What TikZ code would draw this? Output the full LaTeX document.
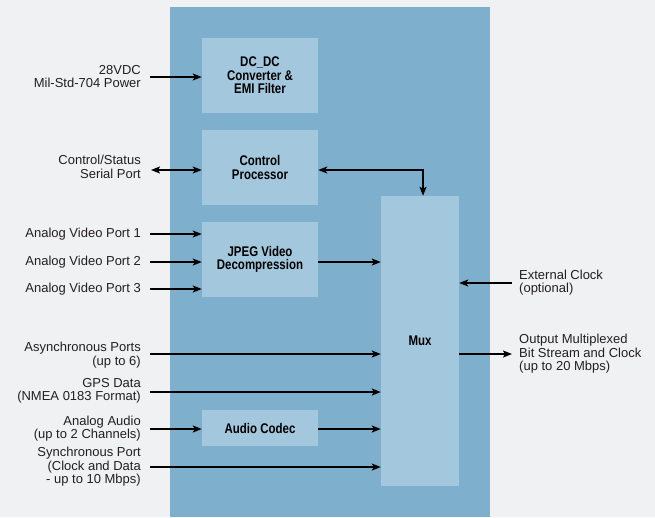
\documentclass[tikz,border=0pt]{standalone}
\usepackage{fontspec}
\setmainfont{Liberation Sans}
\newfontfamily\boxfont[FakeStretch=0.82]{Liberation Sans}
\usetikzlibrary{arrows.meta}
\definecolor{bgc}{HTML}{F0F1F3}
\definecolor{panelc}{HTML}{7EAFCD}
\definecolor{boxc}{HTML}{A3C8DD}
\definecolor{txtc}{HTML}{231F20}
\tikzset{
  blk/.style={fill=boxc,inner sep=0pt,minimum width=116pt,align=center,
    font=\boxfont\bfseries\fontsize{14}{13.5}\selectfont,text=black},
  lbl/.style={inner sep=0pt,align=right,anchor=east,text=txtc,
    font=\fontsize{13}{13.5}\selectfont},
  rlbl/.style={inner sep=0pt,align=left,anchor=west,text=txtc,
    font=\fontsize{13}{13.5}\selectfont},
  arr/.style={line width=1.6pt,-{Stealth[length=9pt,width=7pt,inset=2pt]}},
  dbl/.style={line width=1.6pt,{Stealth[length=9pt,width=7pt,inset=2pt]}-{Stealth[length=9pt,width=7pt,inset=2pt]}}
}
\begin{document}
\begin{tikzpicture}[x=1pt,y=-1pt]
\fill[bgc] (0,0) rectangle (655,517);
\useasboundingbox (0,0) rectangle (655,517);
\fill[panelc] (170,7) rectangle (490,517);
% blocks
\node[blk,minimum height=75pt] (dcdc) at (260,75.5) {DC\_DC\\Converter \&\\EMI Filter};
\node[blk,minimum height=75pt] (ctrl) at (260,167.5) {Control\\Processor};
\node[blk,minimum height=75pt] (jpeg) at (260,259.5) {JPEG Video\\Decompression};
\node[blk,minimum height=36pt] (audio) at (260,428) {Audio Codec};
\node[blk,minimum width=78pt,minimum height=290pt] (mux) at (420,341) {Mux};
% left labels
\node[lbl] (l28) at (141,76.5) {28VDC\\Mil-Std-704 Power};
\node[lbl] (lcs) at (141,167) {Control/Status\\Serial Port};
\node[lbl] (lv1) at (141,234) {Analog Video Port 1};
\node[lbl] (lv2) at (141,262) {Analog Video Port 2};
\node[lbl] (lv3) at (141,289) {Analog Video Port 3};
\node[lbl] (las) at (141,355) {Asynchronous Ports\\(up to 6)};
\node[lbl] (lgps) at (141,391) {GPS Data\\(NMEA 0183 Format)};
\node[lbl] (laa) at (141,428.5) {Analog Audio\\(up to 2 Channels)};
\node[lbl] (lsy) at (141,467) {Synchronous Port\\(Clock and Data\\- up to 10 Mbps)};
% right labels
\node[rlbl] (lck) at (519,282.5) {External Clock\\(optional)};
\node[rlbl] (lout) at (519,354) {Output Multiplexed\\Bit Stream and Clock\\(up to 20 Mbps)};
% connector ends
\coordinate (c28) at (150,77);
\coordinate (ccs) at (151,170);
\coordinate (cv1) at (150,234);
\coordinate (cv2) at (150,262);
\coordinate (cv3) at (150,289);
\coordinate (cas) at (150,354);
\coordinate (cgps) at (150,392);
\coordinate (caa) at (150,429);
\coordinate (csy) at (150,467);
\coordinate (cck) at (512,283);
\coordinate (cout) at (512,354);
\coordinate (cpm) at (423,170);
% connectors
\draw[arr] (c28) -- (c28 -| dcdc.west);
\draw[dbl] (ccs) -- (ccs -| ctrl.west);
\draw[dbl] (cpm -| ctrl.east) -| (cpm |- mux.north);
\draw[arr] (cv1) -- (cv1 -| jpeg.west);
\draw[arr] (cv2) -- (cv2 -| jpeg.west);
\draw[arr] (cv3) -- (cv3 -| jpeg.west);
\draw[arr] (cv2 -| jpeg.east) -- (cv2 -| mux.west);
\draw[arr] (cas) -- (cas -| mux.west);
\draw[arr] (cgps) -- (cgps -| mux.west);
\draw[arr] (caa) -- (caa -| audio.west);
\draw[arr] (caa -| audio.east) -- (caa -| mux.west);
\draw[arr] (csy) -- (csy -| mux.west);
\draw[arr] (cck) -- (cck -| mux.east);
\draw[arr] (cout -| mux.east) -- (cout);
\end{tikzpicture}
\end{document}
